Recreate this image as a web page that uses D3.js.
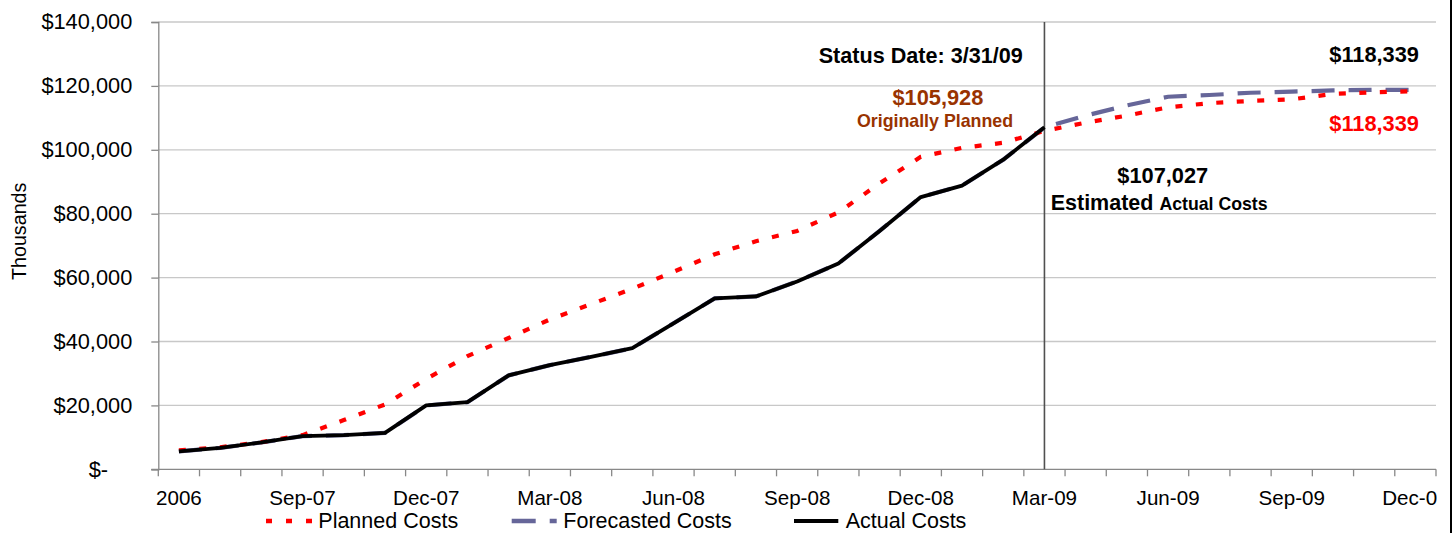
<!DOCTYPE html>
<html>
<head>
<meta charset="utf-8">
<script src="https://cdn.jsdelivr.net/npm/d3@7"></script>
<style>
  html, body { margin: 0; padding: 0; background: #fff; }
  svg { display: block; font-family: "Liberation Sans", Arial, sans-serif; }
</style>
</head>
<body>
<svg id="chart" width="1455" height="533"></svg>
<script>
// ---- Data ----
const categories = ["2006","Jul-07","Aug-07","Sep-07","Oct-07","Nov-07","Dec-07",
  "Jan-08","Feb-08","Mar-08","Apr-08","May-08","Jun-08","Jul-08","Aug-08","Sep-08","Oct-08","Nov-08","Dec-08",
  "Jan-09","Feb-09","Mar-09","Apr-09","May-09","Jun-09","Jul-09","Aug-09","Sep-09","Oct-09","Nov-09","Dec-09"];
const tickLabels = ["2006","Sep-07","Dec-07","Mar-08","Jun-08","Sep-08","Dec-08","Mar-09","Jun-09","Sep-09","Dec-09"];
const yTicks = [0, 20000, 40000, 60000, 80000, 100000, 120000, 140000];

const plannedCosts = [5900, 6900, 8500, 10700, 15400, 20300, 28300, 35400, 41100, 46900, 51700, 56500,
  61800, 67300, 71400, 74600, 80400, 89500, 97800, 100600, 102200, 105928,
  108500, 110700, 113300, 114600, 115300, 115800, 117500, 118000, 118339];
const actualCosts = [5600, 6700, 8400, 10400, 10700, 11400, 20000, 21000, 29400, 32600, 35200, 37900,
  45700, 53500, 54100, 58800, 64400, 74600, 85200, 88800, 96900, 107027];
const forecastedCosts = [5600, 6700, 8400, 10400, 10700, 11400, 20000, 21000, 29400, 32600, 35200, 37900,
  45700, 53500, 54100, 58800, 64400, 74600, 85200, 88800, 96900, 107027,
  110700, 113900, 116600, 117150, 117850, 118200, 118600, 118750, 118750];

const statusCategory = "Mar-09";
const seriesNames = ["Planned Costs", "Forecasted Costs", "Actual Costs"];

(function () {
// ---- Layout ----
const svg = d3.select("#chart");
const pL = 158.3, pR = 1436, pT = 22, pB = 469.3;
const FONT = '"Liberation Sans", Arial, sans-serif';

const x = d3.scaleBand().domain(categories).range([pL, pR]).padding(0);
const y = d3.scaleLinear().domain([0, 140000]).range([pB, pT]);
const cx = d => x(d) + x.bandwidth() / 2;

svg.append("rect").attr("width", 1455).attr("height", 533).attr("fill", "#fff");

// gridlines
svg.append("g").selectAll("line").data(yTicks.filter(d => d > 0)).join("line")
  .attr("x1", pL).attr("x2", pR)
  .attr("y1", d => y(d)).attr("y2", d => y(d))
  .attr("stroke", "#c8c8c8").attr("stroke-width", 1.3);

// y axis
const yAxis = d3.axisLeft(y).tickValues(yTicks).tickSize(7).tickPadding(19)
  .tickFormat(d => d === 0 ? "$-\u00a0\u00a0\u00a0\u00a0" : "$" + d3.format(",")(d));
const gy = svg.append("g").attr("transform", `translate(${pL},0)`).call(yAxis);
gy.select(".domain").attr("stroke", "#888").attr("stroke-width", 1.3);
gy.selectAll(".tick line").attr("stroke", "#888").attr("stroke-width", 1.3);
gy.selectAll(".tick text").attr("font-family", FONT).attr("font-size", 21.8).attr("fill", "#000");

// x axis labels (clipped at plot right edge)
svg.append("defs").append("clipPath").attr("id", "xclip")
  .append("rect").attr("x", 0).attr("y", 470).attr("width", 1437).attr("height", 60);
const clipG = svg.append("g").attr("clip-path", "url(#xclip)");
const xAxis = d3.axisBottom(x).tickValues(tickLabels).tickSize(0).tickPadding(20.6);
const gx = clipG.append("g").attr("transform", `translate(0,${pB})`).call(xAxis);
gx.select(".domain").remove();
gx.selectAll(".tick text").attr("font-family", FONT).attr("font-size", 20.6).attr("fill", "#000");

// x axis line and band-edge ticks
svg.append("line").attr("x1", pL - 7).attr("x2", pR).attr("y1", pB).attr("y2", pB)
  .attr("stroke", "#888").attr("stroke-width", 1.3);
const edges = categories.map(d => x(d)).concat([pR]);
svg.append("g").selectAll("line").data(edges).join("line")
  .attr("x1", d => d).attr("x2", d => d).attr("y1", pB).attr("y2", pB + 7)
  .attr("stroke", "#888").attr("stroke-width", 1.3);

// status date line
svg.append("line")
  .attr("x1", cx(statusCategory)).attr("x2", cx(statusCategory))
  .attr("y1", pT).attr("y2", pB)
  .attr("stroke", "#505050").attr("stroke-width", 1.6);

// lines
const line = d3.line().x((d, i) => cx(categories[i])).y(d => y(d));
svg.append("path").datum(forecastedCosts).attr("d", line)
  .attr("fill", "none").attr("stroke", "#666699").attr("stroke-width", 4.2)
  .attr("stroke-dasharray", "23,14");
svg.append("path").datum(plannedCosts).attr("d", line)
  .attr("fill", "none").attr("stroke", "#ff0000").attr("stroke-width", 4.2)
  .attr("stroke-dasharray", "7,13.5");
svg.append("path").datum(actualCosts).attr("d", line)
  .attr("fill", "none").attr("stroke", "#000").attr("stroke-width", 3.8)
  .attr("stroke-linejoin", "round");

// annotations
function label(txt, xx, yy, size, color, anchor) {
  return svg.append("text").attr("x", xx).attr("y", yy).attr("font-family", FONT)
    .attr("font-size", size).attr("font-weight", "bold")
    .attr("fill", color).attr("text-anchor", anchor).text(txt);
}
label("Status Date: 3/31/09", 1022.7, 63.3, 21.6, "#000", "end");
label("$105,928", 937.9, 105, 21.8, "#993300", "middle");
label("Originally Planned", 935, 127.3, 17.8, "#993300", "middle");
label("$118,339", 1419, 62.3, 21.8, "#000", "end");
label("$118,339", 1419, 130.7, 21.8, "#ff0000", "end");
label("$107,027", 1162.8, 182.7, 21.8, "#000", "middle");
const est = svg.append("text").attr("x", 1050.7).attr("y", 210).attr("font-family", FONT)
  .attr("font-weight", "bold").attr("fill", "#000");
est.append("tspan").attr("font-size", 21.5).text("Estimated");
est.append("tspan").attr("font-size", 17.7).attr("dx", 6).text("Actual Costs");

// y title
svg.append("text").attr("transform", "translate(25.5,231.3) rotate(-90)")
  .attr("text-anchor", "middle").attr("font-family", FONT).attr("font-size", 19.7)
  .attr("fill", "#000").text("Thousands");

// legend
const legendY = 521, legendBase = 528.3;
const legend = [
  { name: seriesNames[0], x1: 266, x2: 312.7, tx: 318.3, color: "#ff0000", dash: "6,14", w: 4.5 },
  { name: seriesNames[1], x1: 511.7, x2: 556.7, tx: 563.3, color: "#666699", dash: "24,14", w: 4.5 },
  { name: seriesNames[2], x1: 794, x2: 838.3, tx: 845.7, color: "#000", dash: null, w: 3.8 }
];
const lg = svg.append("g").selectAll("g").data(legend).join("g");
lg.append("line").attr("x1", d => d.x1).attr("x2", d => d.x2).attr("y1", legendY).attr("y2", legendY)
  .attr("stroke", d => d.color).attr("stroke-width", d => d.w)
  .attr("stroke-dasharray", d => d.dash);
lg.append("text").attr("x", d => d.tx).attr("y", legendBase).attr("font-family", FONT)
  .attr("font-size", 21.5).attr("fill", "#000").text(d => d.name);

// right border
svg.append("line").attr("x1", 1451).attr("x2", 1451).attr("y1", 0).attr("y2", 533)
  .attr("stroke", "#000").attr("stroke-width", 2);
})();
</script>
</body>
</html>
